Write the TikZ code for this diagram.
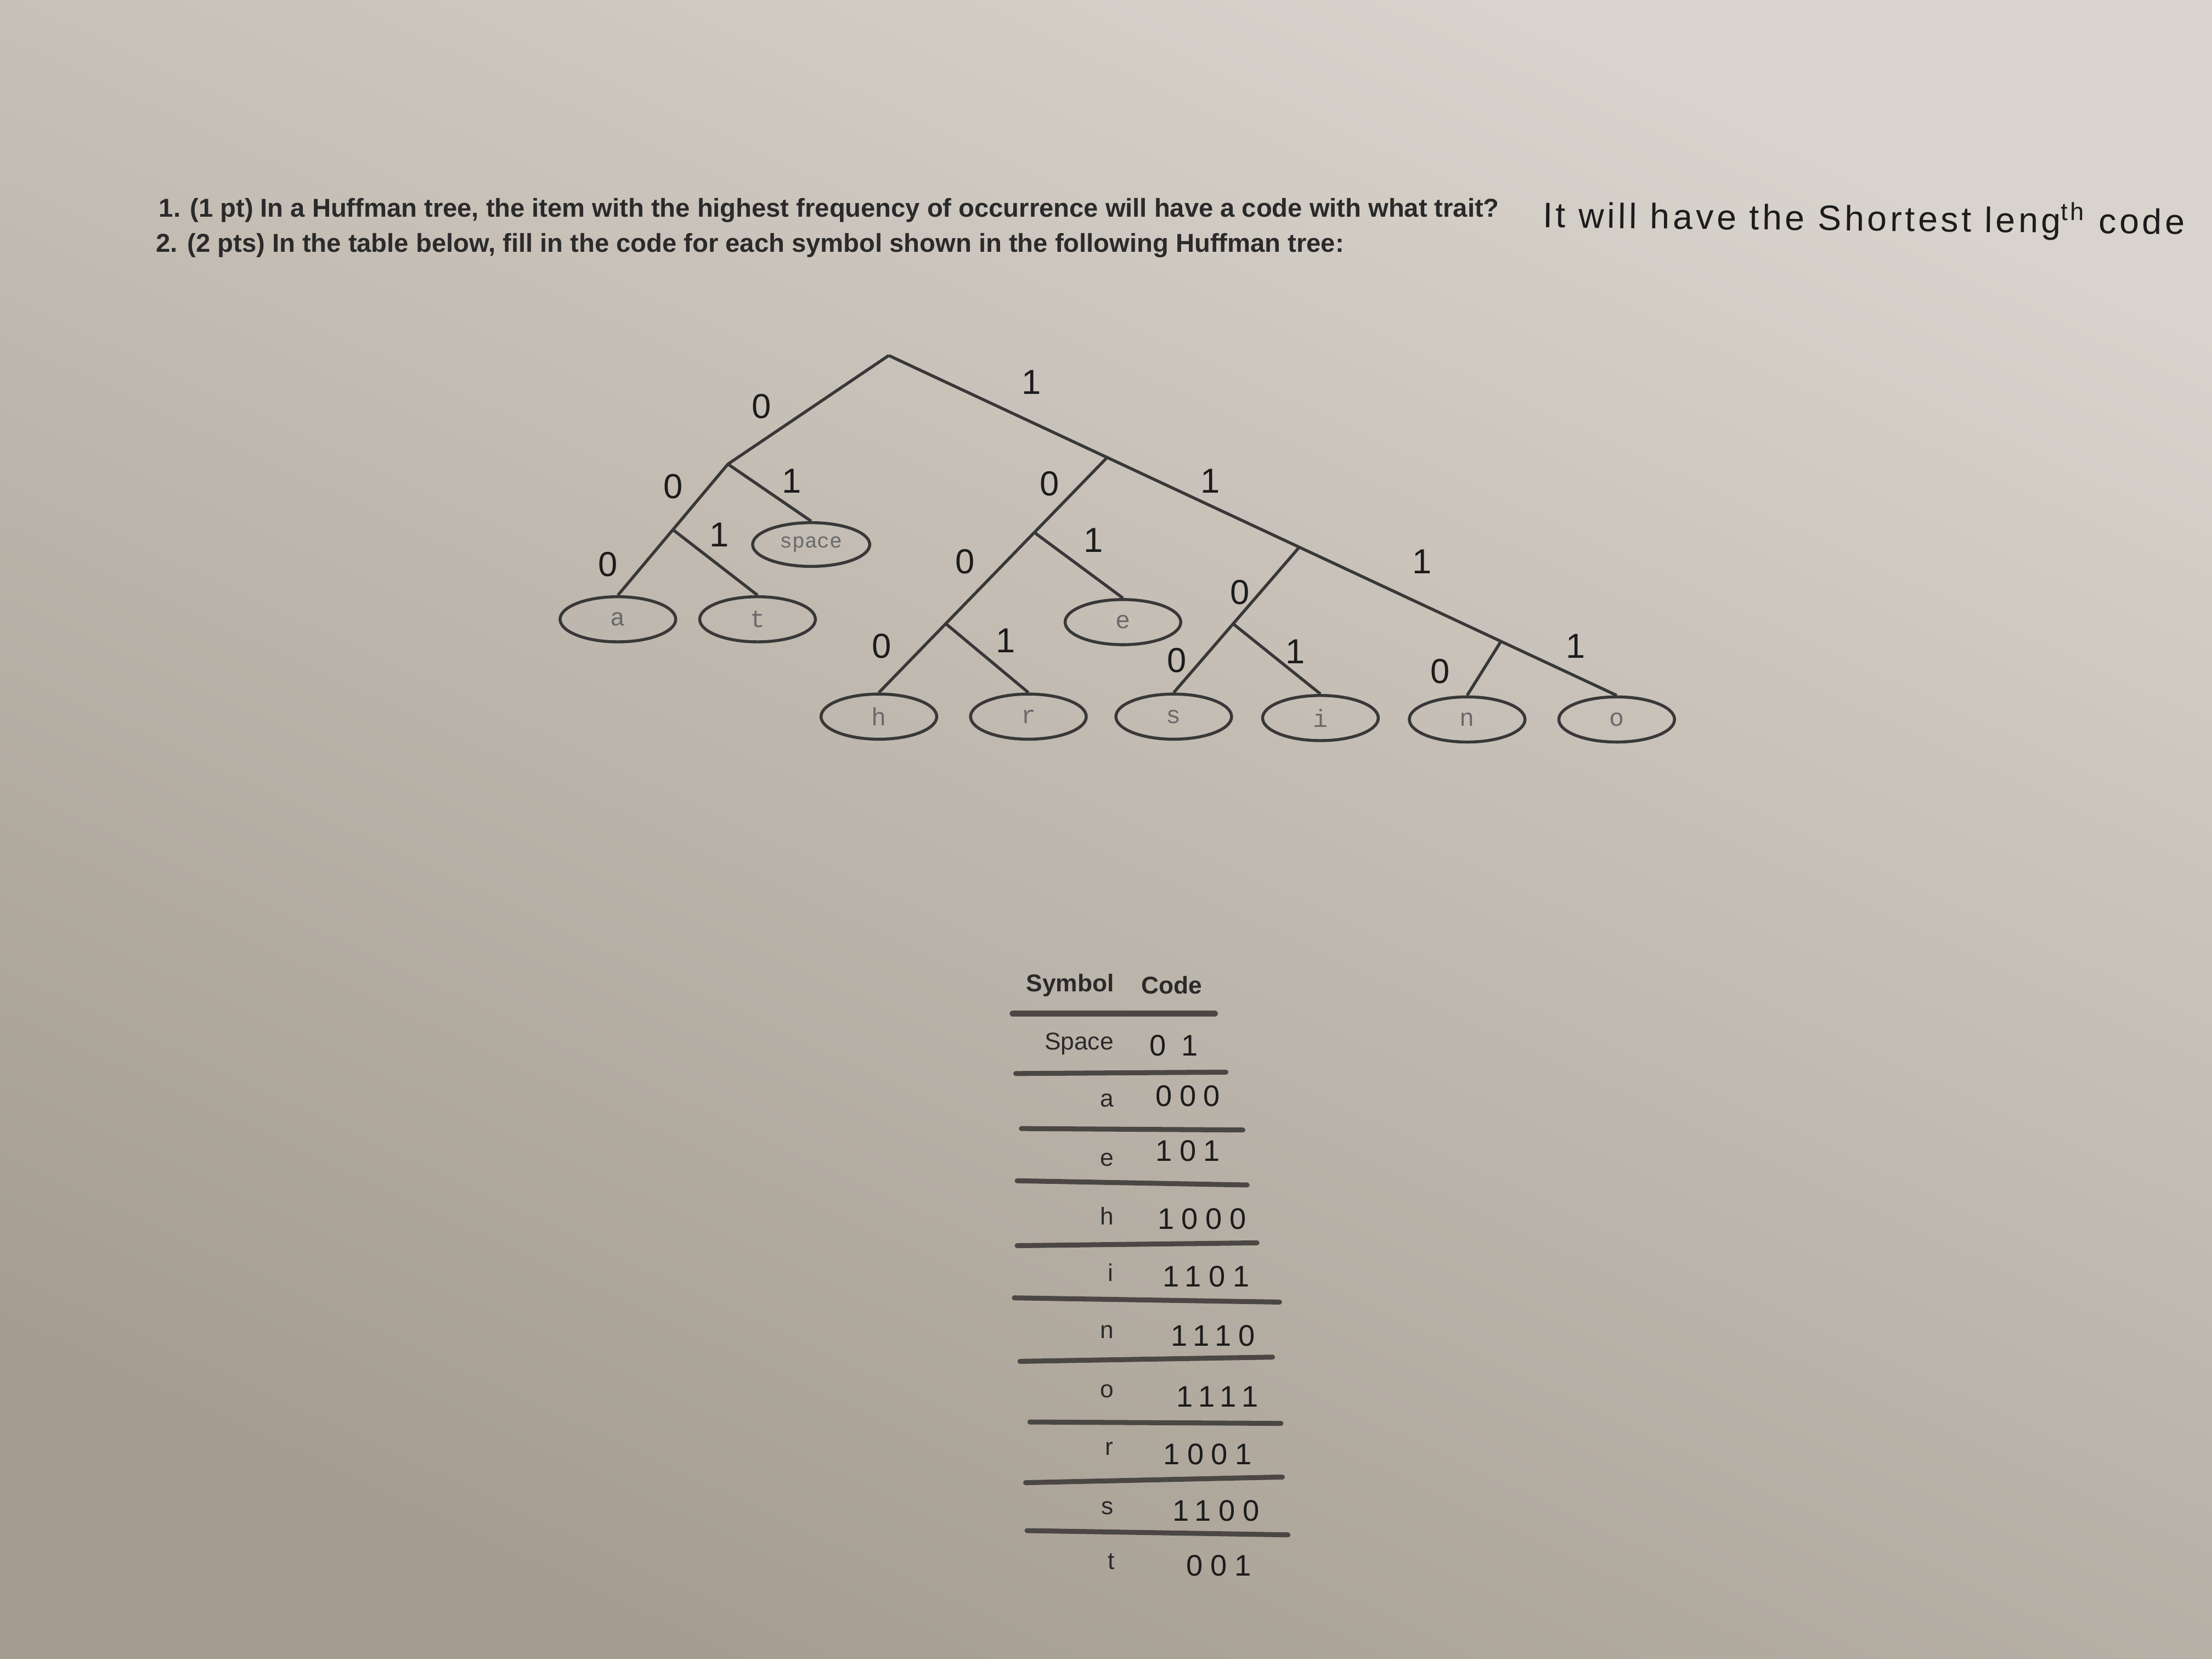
\documentclass[tikz,border=0pt]{standalone}
\usepackage{fontspec}
\usepackage{graphicx}
\setmainfont{Liberation Sans}
\newfontfamily\monof{Liberation Mono}
\newfontfamily\handf[LetterSpace=25]{Liberation Sans}
\newfontfamily\answerf[LetterSpace=9]{Liberation Sans}
\usetikzlibrary{shapes.geometric,calc}
\definecolor{paperhi}{HTML}{D8D3CC}
\definecolor{paperlo}{HTML}{A59D91}
\definecolor{printc}{HTML}{2A2A2A}
\definecolor{inkc}{HTML}{1C1C1C}
\definecolor{linec}{HTML}{383838}
\definecolor{leafc}{HTML}{6A6A6A}
\definecolor{rulec}{HTML}{4A4744}
\tikzset{
  leaf/.style={ellipse, draw=linec, line width=0.6pt, minimum width=0.82cm, minimum height=0.32cm, inner sep=0pt, font=\monof\fontsize{5}{6}\selectfont, text=leafc},
  treeedge/.style={draw=linec, line width=0.6pt},
  bit/.style={font=\fontsize{7}{8}\selectfont, text=inkc, inner sep=0pt},
  tablerule/.style={draw=rulec, line width=1pt, line cap=round},
  symb/.style={anchor=east, inner sep=0pt, font=\fontsize{4.9}{6}\selectfont, text=printc},
  hdr/.style={inner sep=0pt, font=\bfseries\fontsize{4.9}{6}\selectfont, text=printc},
  codec/.style={inner sep=0pt, font=\handf\fontsize{6}{7}\selectfont, text=inkc},
  qtext/.style={inner sep=0pt, anchor=west, text=printc}
}
\begin{document}
\begin{tikzpicture}
\shade[top color=paperhi, bottom color=paperlo, shading angle=-25] (0,0) rectangle (15.68,-11.76);
\useasboundingbox (0,0) rectangle (15.68,-11.76);

% question text
\node[qtext] (q1) at (1.12,-1.49) {\resizebox{9.50cm}{!}{\bfseries 1. (1 pt) In a Huffman tree, the item with the highest frequency of occurrence will have a code with what trait?}};
\node[qtext] (q2) at (1.10,-1.74) {\resizebox{8.42cm}{!}{\bfseries 2. (2 pts) In the table below, fill in the code for each symbol shown in the following Huffman tree:}};
\node[qtext, text=inkc, rotate=-0.6] (ans) at (10.93,-1.53) {\resizebox{4.55cm}{!}{\answerf It will have the Shortest leng\textsuperscript{th} code}};

% tree leaves
\node[leaf] (a) at (4.38,-4.39) {a};
\node[leaf] (t) at (5.37,-4.39) {t};
\node[leaf, minimum width=0.83cm, minimum height=0.31cm, font=\monof\fontsize{4.2}{5}\selectfont] (space) at (5.75,-3.86) {space};
\node[leaf] (e) at (7.96,-4.41) {e};
\node[leaf] (h) at (6.23,-5.08) {h};
\node[leaf] (r) at (7.29,-5.08) {r};
\node[leaf] (s) at (8.32,-5.08) {s};
\node[leaf] (i) at (9.36,-5.09) {i};
\node[leaf] (n) at (10.40,-5.10) {n};
\node[leaf] (o) at (11.46,-5.10) {o};

% internal nodes
\coordinate (R) at (6.30,-2.52);
\coordinate (N0) at (5.16,-3.29);
\coordinate (N00) at ($(N0)!0.5!(a.north)$);
\coordinate (N1) at ($(R)!0.30!(o.north)$);
\coordinate (N11) at ($(R)!0.564!(o.north)$);
\coordinate (N111) at ($(R)!0.841!(o.north)$);
\coordinate (N10) at ($(N1)!0.319!(h.north)$);
\coordinate (N100) at ($(N1)!0.707!(h.north)$);
\coordinate (N110) at ($(N11)!0.527!(s.north)$);

% edges
\draw[treeedge] (R) -- (N0) -- (N00) -- (a.north);
\draw[treeedge] (N00) -- (t.north);
\draw[treeedge] (N0) -- (space.north);
\draw[treeedge] (R) -- (N1) -- (N11) -- (N111) -- (o.north);
\draw[treeedge] (N1) -- (N10) -- (N100) -- (h.north);
\draw[treeedge] (N100) -- (r.north);
\draw[treeedge] (N10) -- (e.north);
\draw[treeedge] (N11) -- (N110) -- (s.north);
\draw[treeedge] (N110) -- (i.north);
\draw[treeedge] (N111) -- (n.north);

% edge labels (handwritten)
\node[bit] (bR0) at (5.40,-2.88) {0};
\node[bit] (bR1) at (7.31,-2.71) {1};
\node[bit] (b00) at (4.77,-3.45) {0};
\node[bit] (b01) at (5.61,-3.41) {1};
\node[bit] (b000) at (4.31,-4.00) {0};
\node[bit] (b001) at (5.10,-3.79) {1};
\node[bit] (b10) at (7.44,-3.43) {0};
\node[bit] (b11) at (8.58,-3.41) {1};
\node[bit] (b100) at (6.84,-3.98) {0};
\node[bit] (b101) at (7.75,-3.83) {1};
\node[bit] (b1000) at (6.25,-4.58) {0};
\node[bit] (b1001) at (7.13,-4.54) {1};
\node[bit] (b110) at (8.79,-4.20) {0};
\node[bit] (b111) at (10.08,-3.98) {1};
\node[bit] (b1100) at (8.34,-4.68) {0};
\node[bit] (b1101) at (9.18,-4.62) {1};
\node[bit] (b1110) at (10.21,-4.76) {0};
\node[bit] (b1111) at (11.17,-4.58) {1};

% table
\node[hdr] (hsym) at (7.585,-6.985) {Symbol};
\node[hdr] (hcode) at (8.305,-6.985) {Code};
\draw[tablerule, line width=1.3pt] (7.18,-7.185) -- (8.61,-7.185);

\node[symb] (sSpace) at (7.90,-7.40) {Space};
\node[codec] (cSpace) at (8.32,-7.41) {0 1};
\draw[tablerule] (7.20,-7.61) -- (8.69,-7.60);

\node[symb] (sa) at (7.90,-7.80) {a};
\node[codec] (ca) at (8.42,-7.77) {000};
\draw[tablerule] (7.24,-8.00) -- (8.81,-8.01);

\node[symb] (se) at (7.90,-8.22) {e};
\node[codec] (ce) at (8.42,-8.16) {101};
\draw[tablerule] (7.21,-8.37) -- (8.84,-8.40);

\node[symb] (sh) at (7.90,-8.62) {h};
\node[codec] (ch) at (8.52,-8.64) {1000};
\draw[tablerule] (7.21,-8.83) -- (8.91,-8.81);

\node[symb] (si) at (7.90,-9.02) {i};
\node[codec] (ci) at (8.55,-9.05) {1101};
\draw[tablerule] (7.19,-9.20) -- (9.07,-9.23);

\node[symb] (sn) at (7.90,-9.44) {n};
\node[codec] (cn) at (8.60,-9.47) {1110};
\draw[tablerule] (7.23,-9.65) -- (9.02,-9.62);

\node[symb] (so) at (7.90,-9.86) {o};
\node[codec] (co) at (8.63,-9.90) {1111};
\draw[tablerule] (7.30,-10.08) -- (9.08,-10.09);

\node[symb] (sr) at (7.90,-10.27) {r};
\node[codec] (cr) at (8.56,-10.31) {1001};
\draw[tablerule] (7.27,-10.51) -- (9.09,-10.47);

\node[symb] (ss) at (7.90,-10.69) {s};
\node[codec] (cs) at (8.62,-10.71) {1100};
\draw[tablerule] (7.28,-10.85) -- (9.13,-10.88);

\node[symb] (st) at (7.91,-11.07) {t};
\node[codec] (ct) at (8.64,-11.10) {001};
\end{tikzpicture}
\end{document}
